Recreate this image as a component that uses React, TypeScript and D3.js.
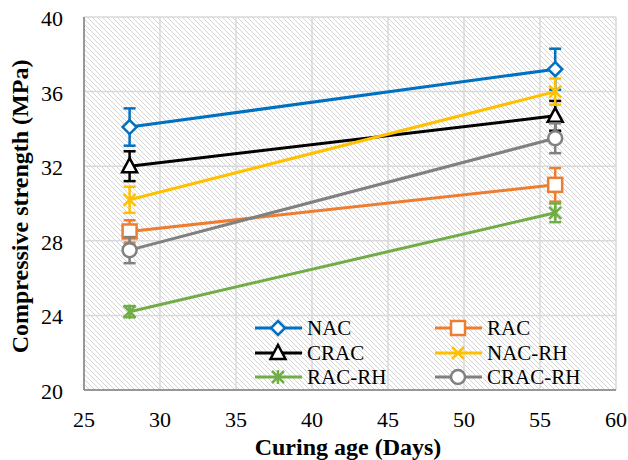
import * as d3 from "d3";

// curing ages (days)
const ages = [28, 56];

// mean strengths and error bars (MPa)
const NAC = [34.1, 37.2];
const NAC_ERR = [1.0, 1.1];
const RAC = [28.5, 31.0];
const RAC_ERR = [0.6, 0.9];
const CRAC = [32.0, 34.7];
const CRAC_ERR = [0.8, 0.8];
const NAC_RH = [30.2, 36.0];
const NAC_RH_ERR = [0.7, 0.7];
const RAC_RH = [24.2, 29.5];
const RAC_RH_ERR = [0.3, 0.5];
const CRAC_RH = [27.5, 33.5];
const CRAC_RH_ERR = [0.7, 0.8];

const xTicks = [25, 30, 35, 40, 45, 50, 55, 60];
const yTicks = [20, 24, 28, 32, 36, 40];

type Marker = "diamond" | "square" | "triangle" | "x" | "star" | "circle";

const series: { name: string; values: number[]; err: number[]; color: string; marker: Marker }[] = [
  { name: "NAC", values: NAC, err: NAC_ERR, color: "#0070c0", marker: "diamond" },
  { name: "RAC", values: RAC, err: RAC_ERR, color: "#ed7d31", marker: "square" },
  { name: "CRAC", values: CRAC, err: CRAC_ERR, color: "#000000", marker: "triangle" },
  { name: "NAC-RH", values: NAC_RH, err: NAC_RH_ERR, color: "#ffc000", marker: "x" },
  { name: "RAC-RH", values: RAC_RH, err: RAC_RH_ERR, color: "#70ad47", marker: "star" },
  { name: "CRAC-RH", values: CRAC_RH, err: CRAC_RH_ERR, color: "#808080", marker: "circle" },
];

const W = 628;
const H = 460;
const left = 84;
const right = 616;
const top = 17;
const bottom = 390;

const FONT = `"Liberation Serif", "Times New Roman", serif`;

function MarkerShape({ type, color, x, y }: { type: Marker; color: string; x: number; y: number }) {
  const sw = 2.5;
  switch (type) {
    case "diamond":
      return <path d={`M${x},${y - 7} L${x + 7},${y} L${x},${y + 7} L${x - 7},${y} Z`} fill="#fff" stroke={color} strokeWidth={sw} />;
    case "square":
      return <rect x={x - 7} y={y - 7} width={14} height={14} fill="#fff" stroke={color} strokeWidth={sw} />;
    case "triangle":
      return <path d={`M${x},${y - 8} L${x + 7.5},${y + 6} L${x - 7.5},${y + 6} Z`} fill="#fff" stroke={color} strokeWidth={sw} />;
    case "x":
      return (
        <g stroke={color} strokeWidth={sw}>
          <line x1={x - 6} y1={y - 6} x2={x + 6} y2={y + 6} />
          <line x1={x - 6} y1={y + 6} x2={x + 6} y2={y - 6} />
        </g>
      );
    case "star":
      return (
        <g stroke={color} strokeWidth={sw}>
          <line x1={x - 6} y1={y - 6} x2={x + 6} y2={y + 6} />
          <line x1={x - 6} y1={y + 6} x2={x + 6} y2={y - 6} />
          <line x1={x} y1={y - 7} x2={x} y2={y + 7} />
        </g>
      );
    case "circle":
      return <circle cx={x} cy={y} r={7} fill="#fff" stroke={color} strokeWidth={sw} />;
  }
}

export default function App() {
  const x = d3.scaleLinear().domain([25, 60]).range([left, right]);
  const y = d3.scaleLinear().domain([20, 40]).range([bottom, top]);
  const line = d3
    .line<number>()
    .x((_, i) => x(ages[i]))
    .y((d) => y(d));

  // legend layout
  const legRows = [328, 353, 377];
  const legCols = [255, 435];

  return (
    <svg width={W} height={H} style={{ position: "absolute", left: 0, top: 0, fontFamily: FONT }}>
      <style>{`text { font-family: ${FONT} !important; }`}</style>
      <defs>
        <pattern id="hatch" patternUnits="userSpaceOnUse" width={5} height={5}>
          <path d="M0,0 L5,5 M-1,4 L1,6 M4,-1 L6,1" stroke="#d4d4d4" strokeWidth={1} />
        </pattern>
      </defs>
      <rect width={W} height={H} fill="#fff" />
      <rect x={left} y={top} width={right - left} height={bottom - top} fill="url(#hatch)" />

      {/* grid */}
      {xTicks.map((t) => (
        <line key={"gx" + t} x1={x(t)} x2={x(t)} y1={top} y2={bottom} stroke="#d9d9d9" strokeWidth={1.5} />
      ))}
      {yTicks.map((t) => (
        <line key={"gy" + t} x1={left} x2={right} y1={y(t)} y2={y(t)} stroke="#d9d9d9" strokeWidth={1.5} />
      ))}
      <line x1={left} x2={left} y1={top} y2={bottom} stroke="#7f7f7f" strokeWidth={1.5} />
      <line x1={left} x2={right} y1={bottom} y2={bottom} stroke="#7f7f7f" strokeWidth={1.5} />

      {/* tick labels */}
      {yTicks.map((t) => (
        <text key={"ty" + t} x={63} y={y(t) + 9} textAnchor="end" fontSize={22} fill="#000" fontFamily={FONT}>
          {t}
        </text>
      ))}
      {xTicks.map((t) => (
        <text key={"tx" + t} x={x(t)} y={bottom + 37} textAnchor="middle" fontSize={22} fill="#000" fontFamily={FONT}>
          {t}
        </text>
      ))}

      {/* axis titles */}
      <text x={348} y={455} textAnchor="middle" fontSize={24} fontWeight="bold" fontFamily={FONT}>
        Curing age (Days)
      </text>
      <text
        transform={`translate(28,${(top + bottom) / 2 + 3}) rotate(-90)`}
        textAnchor="middle"
        fontSize={24}
        fontWeight="bold"
        fontFamily={FONT}
      >
        Compressive strength (MPa)
      </text>

      {/* series */}
      {series.map((s) => (
        <g key={s.name}>
          <path d={line(s.values) ?? ""} fill="none" stroke={s.color} strokeWidth={3} />
          {s.values.map((v, i) => {
            const cx = x(ages[i]);
            const y1 = y(v + s.err[i]);
            const y2 = y(v - s.err[i]);
            return (
              <g key={i} stroke={s.color} strokeWidth={2.5}>
                <line x1={cx} x2={cx} y1={y1} y2={y2} />
                <line x1={cx - 6} x2={cx + 6} y1={y1} y2={y1} />
                <line x1={cx - 6} x2={cx + 6} y1={y2} y2={y2} />
              </g>
            );
          })}
          {s.values.map((v, i) => (
            <MarkerShape key={"m" + i} type={s.marker} color={s.color} x={x(ages[i])} y={y(v)} />
          ))}
        </g>
      ))}

      {/* legend */}
      {series.map((s, i) => {
        const lx = legCols[i % 2];
        const ly = legRows[Math.floor(i / 2)];
        return (
          <g key={"leg" + s.name}>
            <line x1={lx} x2={lx + 47} y1={ly} y2={ly} stroke={s.color} strokeWidth={3} />
            <MarkerShape type={s.marker} color={s.color} x={lx + 23} y={ly} />
            <text x={lx + 52} y={ly + 7} fontSize={21} fill="#000" fontFamily={FONT}>
              {s.name}
            </text>
          </g>
        );
      })}
    </svg>
  );
}
